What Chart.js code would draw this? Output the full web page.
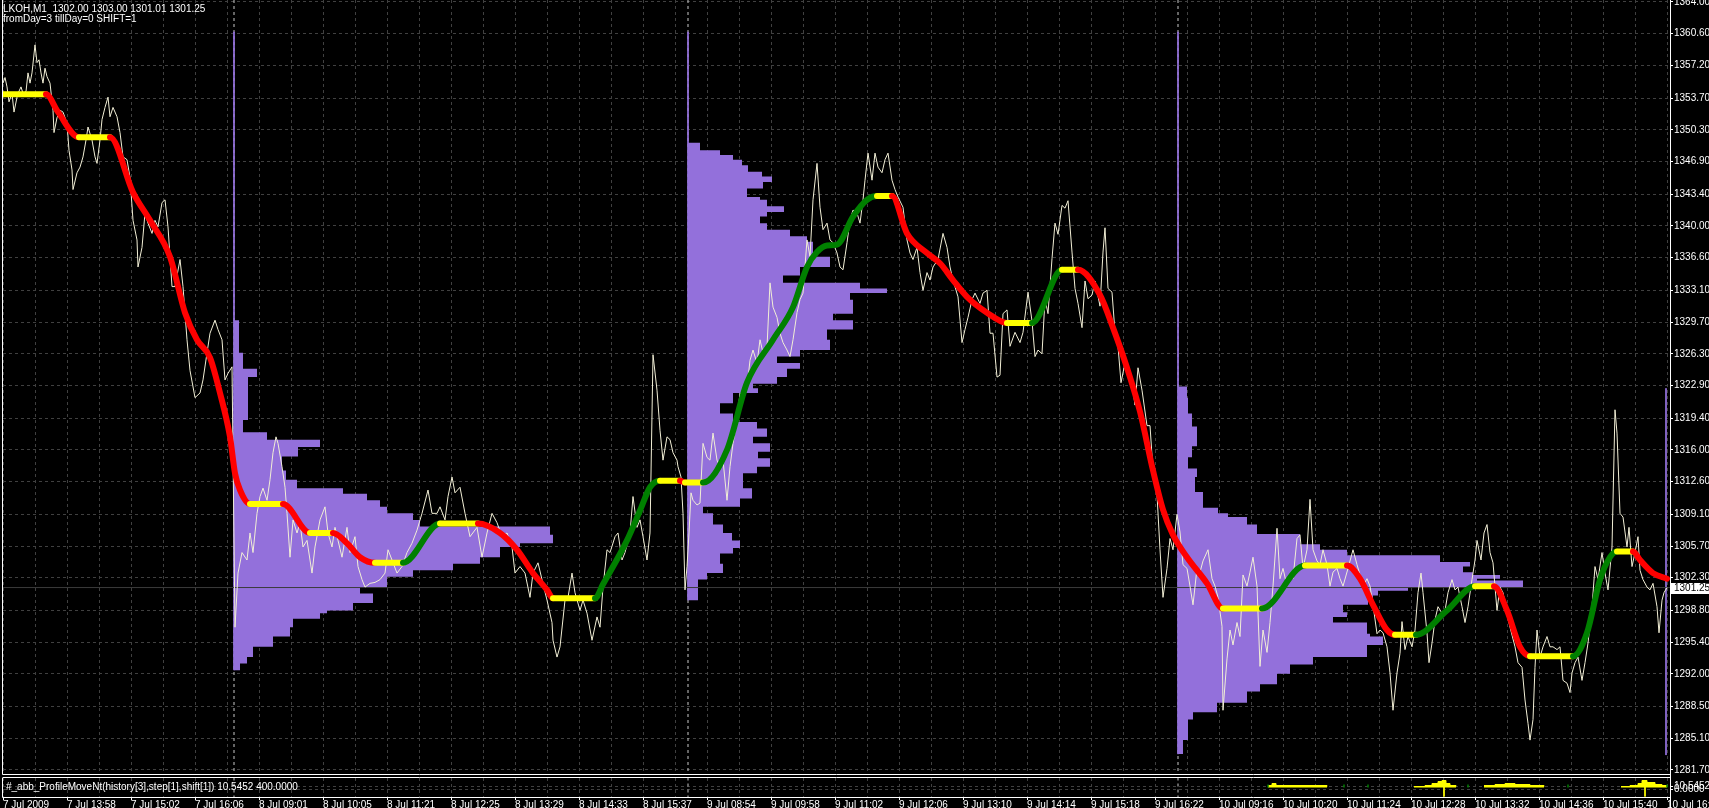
<!DOCTYPE html>
<html>
<head>
<meta charset="utf-8">
<title>LKOH,M1</title>
<script src="https://cdn.jsdelivr.net/npm/chart.js@4.4.1/dist/chart.umd.min.js"></script>
<style>
    html, body { margin: 0; padding: 0; background: #000; overflow: hidden; }
    #box { position: relative; width: 1709px; height: 808px; background: #000; }
    #main-chart { position: absolute; left: 0; top: 0; }
    #sub-chart { position: absolute; left: 0; top: 776px; }
</style>
</head>
<body>
<div id="box">
    <canvas id="main-chart" width="1709" height="776"></canvas>
    <canvas id="sub-chart" width="1709" height="32"></canvas>
</div>
<script>
// ------------------- Data ------------------
const symbol = 'LKOH,M1';
const ohlc = [1302.00, 1303.00, 1301.01, 1301.25];
const inputsText = 'fromDay=3 tillDay=0 SHIFT=1';
const indicatorName = '#_abb_ProfileMoveNt(history[3],step[1],shift[1])';
const indicatorValues = [10.5452, 400.0000];

const priceTicks = [1364.00, 1360.60, 1357.20, 1353.70, 1350.30, 1346.90, 1343.40, 1340.00, 1336.60,
    1333.10, 1329.70, 1326.30, 1322.90, 1319.40, 1316.00, 1312.60, 1309.10, 1305.70, 1302.30,
    1298.80, 1295.40, 1292.00, 1288.50, 1285.10, 1281.70];

const timeLabels = ['7 Jul 2009', '7 Jul 13:58', '7 Jul 15:02', '7 Jul 16:06', '8 Jul 09:01', '8 Jul 10:05',
    '8 Jul 11:21', '8 Jul 12:25', '8 Jul 13:29', '8 Jul 14:33', '8 Jul 15:37', '9 Jul 08:54', '9 Jul 09:58',
    '9 Jul 11:02', '9 Jul 12:06', '9 Jul 13:10', '9 Jul 14:14', '9 Jul 15:18', '9 Jul 16:22', '10 Jul 09:16',
    '10 Jul 10:20', '10 Jul 11:24', '10 Jul 12:28', '10 Jul 13:32', '10 Jul 14:36', '10 Jul 15:40', '10 Jul 16:44'];
const timeLabelBars = [3, 67, 131, 195, 259, 323, 387, 451, 515, 579, 643, 707, 771, 835, 899, 963,
    1027, 1091, 1155, 1219, 1283, 1347, 1411, 1475, 1539, 1603, 1667];

const daySeparators = [234, 688, 1178];

// close of each M1 bar (bar number, price)
const closeBars = [
    3, 5, 7, 9, 12, 14, 17, 18, 21, 23,
    26, 28, 30, 32, 35, 37, 39, 41, 43, 45,
    47, 50, 53, 54, 57, 60, 63, 67, 69, 72,
    73, 77, 80, 83, 86, 88, 92, 95, 97, 100,
    102, 105, 108, 110, 113, 117, 120, 123, 127, 130,
    133, 137, 138, 142, 145, 148, 152, 155, 158, 162,
    165, 168, 172, 175, 180, 183, 187, 190, 195, 200,
    203, 207, 210, 215, 218, 222, 225, 228, 232, 235,
    238, 242, 247, 250, 253, 257, 260, 263, 267, 270,
    273, 276, 278, 282, 285, 287, 290, 293, 297, 300,
    303, 307, 312, 315, 320, 325, 328, 332, 335, 338,
    342, 347, 350, 355, 358, 362, 365, 370, 375, 380,
    385, 388, 392, 397, 402, 407, 412, 417, 422, 428,
    432, 437, 440, 445, 448, 452, 455, 460, 465, 470,
    477, 482, 487, 492, 497, 502, 507, 512, 515, 520,
    525, 530, 533, 538, 542, 547, 552, 553, 557, 560,
    565, 568, 572, 575, 580, 583, 587, 592, 597, 600,
    603, 607, 610, 615, 618, 622, 625, 630, 633, 637,
    640, 643, 647, 650, 653, 657, 660, 663, 667, 670,
    673, 677, 678, 681, 683, 685, 687, 689, 691, 693,
    697, 700, 703, 707, 710, 713, 717, 720, 723, 727,
    730, 733, 737, 740, 743, 747, 750, 753, 757, 760,
    763, 767, 770, 773, 777, 780, 783, 787, 790, 793,
    797, 800, 803, 807, 810, 813, 817, 820, 823, 827,
    830, 833, 837, 840, 843, 847, 850, 853, 857, 860,
    863, 865, 868, 872, 875, 878, 882, 885, 888, 892,
    895, 898, 903, 907, 910, 913, 917, 920, 923, 927,
    930, 933, 938, 943, 947, 950, 953, 958, 962, 965,
    968, 972, 975, 980, 983, 987, 990, 993, 997, 1000,
    1003, 1007, 1010, 1015, 1020, 1023, 1028, 1032, 1035, 1038,
    1042, 1045, 1048, 1052, 1055, 1058, 1062, 1065, 1068, 1072,
    1075, 1078, 1082, 1085, 1088, 1092, 1095, 1100, 1103, 1105,
    1108, 1112, 1115, 1118, 1121, 1124, 1128, 1132, 1135, 1138,
    1142, 1147, 1150, 1153, 1157, 1160, 1163, 1167, 1170, 1173,
    1177, 1180, 1183, 1187, 1190, 1193, 1197, 1200, 1203, 1208,
    1212, 1215, 1218, 1222, 1223, 1227, 1230, 1233, 1237, 1240,
    1243, 1247, 1250, 1253, 1257, 1260, 1263, 1267, 1270, 1273,
    1277, 1280, 1283, 1287, 1290, 1293, 1297, 1300, 1303, 1307,
    1310, 1313, 1317, 1320, 1323, 1327, 1330, 1333, 1337, 1340,
    1343, 1348, 1353, 1357, 1360, 1363, 1367, 1370, 1373, 1377,
    1380, 1383, 1387, 1390, 1393, 1397, 1400, 1402, 1405, 1408,
    1412, 1415, 1418, 1421, 1423, 1427, 1429, 1432, 1435, 1438,
    1442, 1445, 1448, 1452, 1455, 1458, 1462, 1465, 1468, 1472,
    1475, 1477, 1481, 1484, 1487, 1490, 1493, 1497, 1500, 1503,
    1507, 1510, 1515, 1518, 1522, 1525, 1528, 1530, 1533, 1535,
    1537, 1540, 1543, 1547, 1550, 1553, 1557, 1560, 1563, 1567,
    1570, 1572, 1575, 1578, 1582, 1585, 1588, 1592, 1595, 1598,
    1602, 1605, 1608, 1612, 1615, 1617, 1620, 1623, 1627, 1629,
    1632, 1635, 1638, 1640, 1643, 1647, 1650, 1653, 1657, 1659,
    1662, 1664, 1667
];
const closePrices = [
    1355.3, 1355.9, 1354.9, 1353.3, 1354.2, 1352.2, 1353.8, 1354.2, 1354.9, 1354.2,
    1354.4, 1356.4, 1355.3, 1356.4, 1359.4, 1357.5, 1357.8, 1356.4, 1355.3, 1356.9,
    1356.0, 1355.3, 1352.4, 1350.0, 1351.6, 1352.4, 1352.2, 1351.0, 1348.1, 1346.0,
    1343.9, 1345.7, 1346.3, 1347.4, 1349.2, 1350.6, 1349.2, 1347.4, 1346.7, 1349.2,
    1351.4, 1352.7, 1353.8, 1351.7, 1352.7, 1351.7, 1350.0, 1347.4, 1347.1, 1345.2,
    1340.6, 1338.5, 1335.6, 1337.7, 1341.4, 1340.3, 1339.2, 1340.6, 1339.9, 1342.5,
    1342.8, 1339.9, 1333.5, 1333.5, 1336.4, 1333.5, 1327.8, 1324.5, 1321.6, 1322.1,
    1323.5, 1326.4, 1328.5, 1329.9, 1328.9, 1327.8, 1323.5, 1324.2, 1324.9, 1297.0,
    1302.8, 1305.0, 1304.2, 1307.1, 1305.0, 1309.2, 1311.0, 1311.9, 1310.6, 1312.8,
    1315.7, 1317.4, 1316.7, 1314.2, 1312.0, 1309.2, 1304.5, 1308.5, 1307.1, 1308.2,
    1305.6, 1306.3, 1302.8, 1305.6, 1308.5, 1309.9, 1307.1, 1305.6, 1307.7, 1306.3,
    1304.5, 1307.7, 1305.0, 1306.7, 1303.5, 1302.1, 1301.3, 1301.7, 1301.8, 1302.1,
    1302.8, 1305.3, 1304.2, 1302.8, 1303.5, 1305.0, 1306.0, 1307.4, 1309.2, 1311.7,
    1309.2, 1309.2, 1309.9, 1308.5, 1311.0, 1313.1, 1311.4, 1312.0, 1309.2, 1306.7,
    1307.7, 1304.5, 1307.1, 1309.2, 1308.2, 1306.7, 1307.1, 1305.6, 1302.8, 1303.5,
    1302.8, 1300.2, 1302.8, 1303.9, 1302.1, 1299.9, 1297.5, 1295.6, 1293.8, 1294.9,
    1299.9, 1300.2, 1302.8, 1300.7, 1298.8, 1299.9, 1298.5, 1295.6, 1298.1, 1297.0,
    1301.3, 1305.3, 1305.0, 1306.7, 1307.1, 1304.2, 1305.0, 1307.1, 1311.0, 1307.7,
    1308.5, 1306.7, 1304.2, 1307.1, 1326.2, 1322.4, 1318.1, 1314.9, 1317.4, 1317.1,
    1315.7, 1314.9, 1314.2, 1313.1, 1309.2, 1301.0, 1303.5, 1307.1, 1311.4, 1310.6,
    1310.1, 1310.3, 1316.7, 1315.2, 1314.9, 1317.8, 1314.9, 1314.2, 1314.9, 1310.6,
    1314.2, 1316.7, 1319.2, 1322.1, 1321.7, 1322.7, 1325.6, 1326.7, 1325.3, 1327.8,
    1326.4, 1327.0, 1333.9, 1331.3, 1330.2, 1328.5, 1327.5, 1326.7, 1326.0, 1327.8,
    1330.7, 1332.1, 1332.8, 1338.5, 1336.7, 1342.8, 1346.7, 1342.0, 1339.6, 1340.3,
    1338.5, 1338.2, 1337.1, 1335.6, 1335.3, 1338.2, 1340.6, 1341.7, 1341.4, 1340.3,
    1342.8, 1344.9, 1347.8, 1344.9, 1347.8, 1346.3, 1345.7, 1347.1, 1347.8, 1344.9,
    1343.9, 1343.1, 1342.0, 1338.5, 1337.1, 1336.4, 1337.7, 1335.0, 1333.1, 1335.0,
    1334.2, 1335.6, 1336.4, 1339.2, 1337.7, 1335.6, 1334.2, 1332.4, 1327.5, 1328.9,
    1330.2, 1332.1, 1332.8, 1331.7, 1332.8, 1333.1, 1328.5, 1328.5, 1323.8, 1324.0,
    1330.6, 1331.0, 1327.1, 1328.6, 1327.5, 1328.6, 1332.9, 1329.8, 1326.0, 1326.7,
    1326.3, 1332.2, 1330.6, 1336.5, 1340.3, 1339.1, 1342.2, 1341.9, 1342.7, 1337.2,
    1333.3, 1331.7, 1329.1, 1334.1, 1332.2, 1332.6, 1334.1, 1331.4, 1337.2, 1339.8,
    1333.3, 1332.9, 1328.6, 1327.1, 1323.2, 1324.8, 1324.8, 1323.2, 1320.8, 1324.8,
    1322.4, 1318.6, 1318.6, 1313.8, 1311.2, 1305.3, 1300.2, 1303.3, 1306.5, 1305.3,
    1309.1, 1307.2, 1303.7, 1303.3, 1301.4, 1299.4, 1303.3, 1302.9, 1304.1, 1305.3,
    1302.2, 1301.4, 1300.2, 1297.1, 1288.1, 1293.6, 1296.7, 1295.1, 1297.5, 1296.0,
    1302.6, 1301.4, 1302.9, 1304.5, 1301.4, 1292.8, 1296.7, 1294.3, 1297.5, 1301.4,
    1307.6, 1302.2, 1303.3, 1301.4, 1302.6, 1302.2, 1306.5, 1306.9, 1303.3, 1305.3,
    1310.7, 1305.3, 1304.1, 1303.7, 1305.3, 1303.7, 1301.4, 1302.9, 1303.3, 1302.2,
    1301.4, 1303.3, 1305.3, 1303.7, 1302.6, 1301.4, 1302.2, 1301.4, 1299.4, 1296.3,
    1296.7, 1296.4, 1294.9, 1292.1, 1288.1, 1292.1, 1294.2, 1297.6, 1294.6, 1296.0,
    1294.9, 1296.7, 1300.7, 1302.8, 1300.7, 1296.4, 1293.2, 1295.3, 1297.8, 1299.2,
    1298.5, 1298.8, 1300.7, 1302.1, 1301.0, 1301.3, 1299.2, 1297.5, 1299.2, 1302.1,
    1304.2, 1306.3, 1304.2, 1307.1, 1308.0, 1305.0, 1303.9, 1298.8, 1301.3, 1300.7,
    1298.5, 1297.0, 1294.9, 1293.2, 1292.7, 1289.2, 1286.7, 1284.9, 1287.1, 1292.7,
    1296.7, 1293.8, 1294.9, 1296.0, 1294.9, 1294.9, 1294.6, 1294.9, 1291.3, 1291.0,
    1290.0, 1292.1, 1293.2, 1293.8, 1291.3, 1293.2, 1295.3, 1299.2, 1303.5, 1302.1,
    1305.0, 1302.8, 1301.0, 1305.6, 1320.3, 1317.8, 1309.2, 1308.8, 1305.6, 1307.7,
    1303.5, 1305.0, 1306.7, 1303.1, 1302.1, 1301.3, 1301.0, 1301.7, 1299.2, 1296.4,
    1299.9, 1300.7, 1301.25
];

// ProfileMove line (bar number, price)
const moveBars = [3, 46, 58, 79, 110, 133, 150, 170, 185, 197, 210, 220, 230, 235, 240, 250, 283, 310, 333, 347,
    360, 375, 403, 440, 478, 500, 517, 533, 547, 553, 595, 603, 627, 640, 650, 660, 680, 685, 703, 727,
    747, 773, 793, 807, 817, 827, 837, 853, 867, 877, 892, 907, 927, 940, 953, 967, 987, 1007, 1032, 1062,
    1078, 1100, 1113, 1127, 1140, 1153, 1163, 1173, 1187, 1207, 1223, 1262, 1305, 1347, 1360, 1373, 1387, 1395, 1416, 1447,
    1475, 1494, 1507, 1520, 1530, 1573, 1587, 1600, 1610, 1617, 1633, 1640, 1653, 1667];
const movePrices = [1354.1, 1354.1, 1352.2, 1349.5, 1349.5, 1343.6, 1340.6, 1336.7, 1330.7, 1327.8,
    1325.9, 1322.1, 1317.4, 1313.5, 1311.7, 1310.2, 1310.2, 1307.1, 1307.1, 1306.0,
    1304.5, 1303.9, 1303.9, 1308.1, 1308.1, 1307.1, 1305.3, 1302.8, 1301.0, 1300.1,
    1300.1, 1301.6, 1306.3, 1309.5, 1312.0, 1312.7, 1312.7, 1312.5, 1312.5, 1316.0,
    1323.2, 1327.8, 1331.3, 1335.6, 1337.2, 1337.9, 1338.0, 1341.0, 1342.8, 1343.2,
    1343.2, 1339.2, 1337.1, 1336.0, 1334.2, 1332.4, 1330.7, 1329.6, 1329.6, 1335.3,
    1335.3, 1332.6, 1329.1, 1324.8, 1320.1, 1313.8, 1309.6, 1306.9, 1304.5, 1301.7,
    1299.0, 1299.0, 1303.6, 1303.6, 1302.2, 1299.4, 1296.7, 1296.2, 1296.2, 1298.8,
    1301.4, 1301.4, 1298.8, 1294.9, 1293.9, 1293.9, 1296.4, 1302.1, 1304.5, 1305.1,
    1305.1, 1304.2, 1302.8, 1302.2];

// Volume profiles: price of each level (top down) and its length in bars
const profile1Prices = [1329.9, 1326.4, 1324.7, 1323.8, 1319.2, 1317.9, 1317.1, 1316.3, 1315.3, 1313.8,
    1312.8, 1311.9, 1311.3, 1310.6, 1309.9, 1309.2, 1308.5, 1307.8, 1306.9, 1306.0,
    1305.6, 1304.5, 1303.8, 1303.1, 1302.4, 1301.3, 1300.6, 1299.6, 1298.8, 1298.5,
    1297.9, 1297.0, 1296.0, 1294.9, 1293.8, 1293.1, 1292.4];
const profile1Widths = [5, 9, 23, 14, 9, 33, 86, 64, 48, 52,
    63, 109, 133, 146, 153, 179, 186, 316, 319, 286,
    266, 246, 219, 179, 153, 126, 139, 119, 93, 86,
    59, 56, 39, 19, 13, 6, 0];

const profile2Prices = [1348.9, 1348.1, 1347.6, 1347.1, 1346.5, 1345.8, 1345.3, 1344.7, 1344.0, 1343.1,
    1342.8, 1342.1, 1341.5, 1341.0, 1340.3, 1339.6, 1338.9, 1338.3, 1336.7, 1335.6,
    1334.7, 1333.9, 1333.3, 1332.8, 1332.1, 1330.6, 1329.9, 1328.9, 1327.8, 1326.7,
    1326.0, 1325.3, 1324.7, 1323.8, 1323.1, 1322.6, 1322.1, 1321.0, 1319.9, 1319.0,
    1318.3, 1317.4, 1316.7, 1315.8, 1315.1, 1314.2, 1313.5, 1311.9, 1310.8, 1309.9,
    1309.2, 1308.0, 1307.1, 1306.3, 1305.5, 1304.9, 1303.8, 1302.8, 1302.1, 1299.9];
const profile2Widths = [12, 32, 45, 54, 60, 74, 84, 75, 59, 72,
    79, 96, 79, 72, 79, 102, 119, 125, 142, 112,
    95, 172, 199, 162, 165, 145, 165, 139, 142, 112,
    89, 112, 99, 89, 65, 70, 45, 32, 45, 69,
    79, 65, 82, 70, 82, 69, 55, 64, 52, 15,
    25, 35, 44, 52, 45, 32, 35, 19, 10, 0];

const profile3Prices = [1322.8, 1321.6, 1319.9, 1318.5, 1316.4, 1315.2, 1314.0, 1313.1, 1311.5, 1309.8,
    1309.2, 1308.8, 1308.0, 1307.0, 1305.9, 1305.3, 1304.7, 1304.0, 1303.5, 1302.9,
    1302.6, 1302.2, 1302.0, 1301.3, 1300.9, 1300.4, 1299.9, 1299.4, 1298.6, 1298.1,
    1297.5, 1296.3, 1296.0, 1295.1, 1293.8, 1293.0, 1292.0, 1290.9, 1290.1, 1288.9,
    1287.9, 1287.1, 1284.9, 1283.4];
const profile3Widths = [9, 10, 14, 19, 14, 10, 19, 17, 25, 40,
    50, 69, 79, 122, 142, 169, 262, 292, 285, 295,
    322, 299, 345, 230, 200, 195, 190, 165, 169, 155,
    189, 192, 205, 189, 135, 112, 99, 82, 69, 39,
    15, 10, 5, 0];

const profileLineTop = 1360.8;
const openProfileBar = 1666;
const openProfileRange = [1322.6, 1283.3];

// Sub window histogram
const volBars = [1268, 1272, 1276, 1285, 1300, 1315, 1327, 1380, 1414, 1425, 1432, 1438, 1442, 1446, 1450, 1456,
    1470, 1484, 1495, 1505, 1515, 1530, 1544, 1590, 1621, 1630, 1638, 1642, 1647, 1655, 1662, 1667];
const volValues = [2, 4, 2, 2, 2, 2, 1, null, 1, 2, 4, 6, 7, 4, 2, 1,
    null, 2, 3, 4, 3, 2, 1, null, 1, 2, 4, 7, 5, 3, 2, 1];
const spikeBars = [1444, 1645];
const spikeHigh = [6, 7];
const spikeLow = [-9, -9];
const markBars = [1268, 1344, 1368, 1468, 1568, 1667];
const markValues = [3, 3, 3, 3, 3, 3];

// ------------------- Style ------------------
const FONT_FAMILY = "'Liberation Sans', Arial, sans-serif";
const FONT_SIZE = 10;
const GRID = '#404040';
const PURPLE = '#9370DB';
const Y_MIN = 1281.27;
const Y_MAX = 1364.21;
const X_MIN = 3;
const X_MAX = 1670;

function gridBars() {
    const out = [];
    timeLabelBars.forEach((b, i) => {
        out.push(b);
        if (i < timeLabelBars.length - 1) out.push((b + timeLabelBars[i + 1]) / 2);
    });
    return out;
}

function points(xs, ys) {
    return xs.map((x, i) => ({x: x, y: ys[i]}));
}

function profileData(start, prices, widths) {
    const pts = prices.map((p, i) => ({x: start + widths[i], y: p}));
    pts.push({x: start, y: prices[prices.length - 1]});
    pts.push({x: start, y: prices[0]});
    return pts;
}

function vline(x, y1, y2) {
    return [{x: x, y: y1}, {x: x, y: y2}];
}

// ------------------- Plugins ------------------
const frame = {
    id: 'frame',
    afterDraw(chart, args, opts) {
        const {ctx, chartArea: a} = chart;
        ctx.save();
        ctx.strokeStyle = '#ffffff';
        ctx.lineWidth = 1;
        ctx.beginPath();
        ctx.moveTo(a.left - 0.5, a.top);
        ctx.lineTo(a.left - 0.5, a.bottom + 0.5);
        ctx.lineTo(a.right + 0.5, a.bottom + 0.5);
        ctx.moveTo(a.right + 0.5, 0);
        ctx.lineTo(a.right + 0.5, chart.height);
        if (opts.top) {
            ctx.moveTo(a.left - 0.5, a.top - 0.5);
            ctx.lineTo(a.right + 0.5, a.top - 0.5);
        }
        ctx.stroke();
        ctx.restore();
    }
};

const captions = {
    id: 'captions',
    afterDraw(chart, args, opts) {
        const ctx = chart.ctx;
        ctx.save();
        ctx.font = FONT_SIZE + 'px ' + FONT_FAMILY;
        ctx.textBaseline = 'middle';
        ctx.fillStyle = '#ffffff';
        (opts.lines || []).forEach(l => ctx.fillText(l.text, l.x, l.y));
        if (opts.price !== undefined) {
            const y = Math.round(chart.scales.y.getPixelForValue(opts.price));
            const x = chart.chartArea.right + 1;
            ctx.fillRect(x, y - 5, chart.width - x, 11);
            ctx.fillStyle = '#000000';
            ctx.fillText(opts.price.toFixed(2), x + 3, y + 0.5);
        }
        ctx.restore();
    }
};

// ------------------- Main Chart ------------------
function mainChart() {
    const lastPrice = ohlc[3];
    const datasets = [
        {
            data: points(moveBars, movePrices),
            borderWidth: 6,
            borderCapStyle: 'round',
            borderJoinStyle: 'round',
            cubicInterpolationMode: 'monotone',
            segment: {
                borderColor: c => c.p1.parsed.y > c.p0.parsed.y ? '#008000'
                    : (c.p1.parsed.y < c.p0.parsed.y ? '#FF0000' : '#FFFF00')
            },
            order: 0
        },
        {
            data: points(closeBars, closePrices),
            borderColor: '#F2EFD6',
            borderWidth: 1,
            order: 1
        },
        {
            data: [{x: X_MIN, y: lastPrice}, {x: X_MAX, y: lastPrice}],
            borderColor: '#3a3a3a',
            borderWidth: 1,
            order: 2
        }
    ];

    [[profile1Prices, profile1Widths], [profile2Prices, profile2Widths], [profile3Prices, profile3Widths]]
        .forEach((p, i) => {
            const start = daySeparators[i];
            datasets.push({
                data: vline(start, profileLineTop, p[0][p[0].length - 1]),
                borderColor: PURPLE,
                borderWidth: 1,
                order: 3
            });
            datasets.push({
                data: profileData(start, p[0], p[1]),
                stepped: 'after',
                fill: 'shape',
                backgroundColor: PURPLE,
                borderWidth: 0,
                order: 4
            });
        });

    datasets.push({
        data: vline(openProfileBar, openProfileRange[0], openProfileRange[1]),
        borderColor: PURPLE,
        borderWidth: 1,
        order: 3
    });

    daySeparators.forEach(x => datasets.push({
        data: vline(x, Y_MAX, Y_MIN),
        borderColor: '#c8c8c8',
        borderWidth: 1,
        borderDash: [3, 3],
        order: 5
    }));

    const config = {
        type: 'line',
        data: {datasets: datasets},
        options: {
            responsive: false,
            animation: false,
            events: [],
            devicePixelRatio: 1,
            layout: {padding: {left: 3, top: 0, right: 0, bottom: 0}, autoPadding: false},
            elements: {point: {radius: 0}, line: {tension: 0}},
            scales: {
                x: {
                    type: 'linear', min: X_MIN, max: X_MAX,
                    afterBuildTicks: s => { s.ticks = gridBars().map(v => ({value: v})); },
                    afterFit: s => { s.height = 2; s.paddingLeft = 0; s.paddingRight = 0; },
                    ticks: {display: false},
                    grid: {color: GRID, drawTicks: false},
                    border: {display: false, dash: [3, 3]}
                },
                y: {
                    type: 'linear', position: 'right', min: Y_MIN, max: Y_MAX,
                    afterBuildTicks: s => { s.ticks = priceTicks.map(v => ({value: v})); },
                    afterFit: s => { s.width = 39; s.paddingTop = 0; s.paddingBottom = 0; },
                    ticks: {
                        autoSkip: false, padding: 1, color: '#ffffff',
                        font: {family: FONT_FAMILY, size: FONT_SIZE},
                        callback: v => v.toFixed(2)
                    },
                    grid: {color: GRID, tickColor: '#ffffff', tickLength: 3, tickBorderDash: []},
                    border: {display: false, dash: [3, 3]}
                }
            },
            plugins: {
                legend: {display: false},
                tooltip: {enabled: false},
                frame: {top: false},
                captions: {
                    lines: [
                        {text: symbol + '  ' + ohlc.map(v => v.toFixed(2)).join(' '), x: 3, y: 9},
                        {text: inputsText, x: 3, y: 19}
                    ],
                    price: lastPrice
                }
            }
        },
        plugins: [frame, captions]
    };

    new Chart(document.getElementById('main-chart'), config);
}

// ------------------- Sub Window ------------------
function subChart() {
    const datasets = [
        {
            data: points(volBars, volValues),
            stepped: true,
            fill: 'origin',
            borderColor: '#FFFF00',
            backgroundColor: '#FFFF00',
            borderWidth: 1,
            order: 1
        }
    ];
    spikeBars.forEach((x, i) => datasets.push({
        data: vline(x, spikeHigh[i], spikeLow[i]),
        borderColor: '#FFFF00', borderWidth: 1, order: 0
    }));
    markBars.forEach((x, i) => datasets.push({
        data: vline(x, 0, markValues[i]),
        borderColor: '#008000', borderWidth: 1.5, order: 0
    }));
    daySeparators.forEach(x => datasets.push({
        data: vline(x, 10, -10),
        borderColor: '#c8c8c8', borderWidth: 1, borderDash: [3, 3], order: 2
    }));

    const config = {
        type: 'line',
        data: {datasets: datasets},
        options: {
            responsive: false,
            animation: false,
            events: [],
            devicePixelRatio: 1,
            layout: {padding: {left: 3, top: 2, right: 0, bottom: 0}, autoPadding: false},
            elements: {point: {radius: 0}, line: {tension: 0}},
            scales: {
                x: {
                    type: 'linear', min: X_MIN, max: X_MAX,
                    afterBuildTicks: s => { s.ticks = gridBars().map(v => ({value: v})); },
                    afterFit: s => { s.height = 11; s.paddingLeft = 0; s.paddingRight = 0; },
                    ticks: {
                        autoSkip: false, maxRotation: 0, align: 'start', padding: -1,
                        color: '#ffffff', font: {family: FONT_FAMILY, size: FONT_SIZE},
                        callback: v => {
                            const k = timeLabelBars.indexOf(v);
                            return k >= 0 ? timeLabels[k] : '';
                        }
                    },
                    grid: {
                        color: GRID, tickLength: 3, tickBorderDash: [],
                        tickColor: c => (c.tick && timeLabelBars.indexOf(c.tick.value) >= 0) ? '#ffffff' : 'rgba(0,0,0,0)'
                    },
                    border: {display: false, dash: [3, 3]}
                },
                y: {
                    type: 'linear', position: 'right', min: -9.5, max: 9.5,
                    afterBuildTicks: s => { s.ticks = [{value: 1.5}, {value: -1.5}]; },
                    afterFit: s => { s.width = 39; s.paddingTop = 0; s.paddingBottom = 0; },
                    ticks: {
                        autoSkip: false, padding: 1, color: '#ffffff',
                        font: {family: FONT_FAMILY, size: FONT_SIZE},
                        callback: (v, i) => i === 0 ? indicatorValues[0].toFixed(4) : (0).toFixed(4)
                    },
                    grid: {color: GRID, tickColor: '#ffffff', tickLength: 3, tickBorderDash: []},
                    border: {display: false, dash: [3, 3]}
                }
            },
            plugins: {
                legend: {display: false},
                tooltip: {enabled: false},
                frame: {top: true},
                captions: {
                    lines: [{
                        text: indicatorName + ' ' + indicatorValues[0].toFixed(4) + ' ' + indicatorValues[1].toFixed(4),
                        x: 6, y: 11.5
                    }]
                }
            }
        },
        plugins: [frame, captions]
    };

    new Chart(document.getElementById('sub-chart'), config);
}

mainChart();
subChart();
</script>
</body>
</html>
